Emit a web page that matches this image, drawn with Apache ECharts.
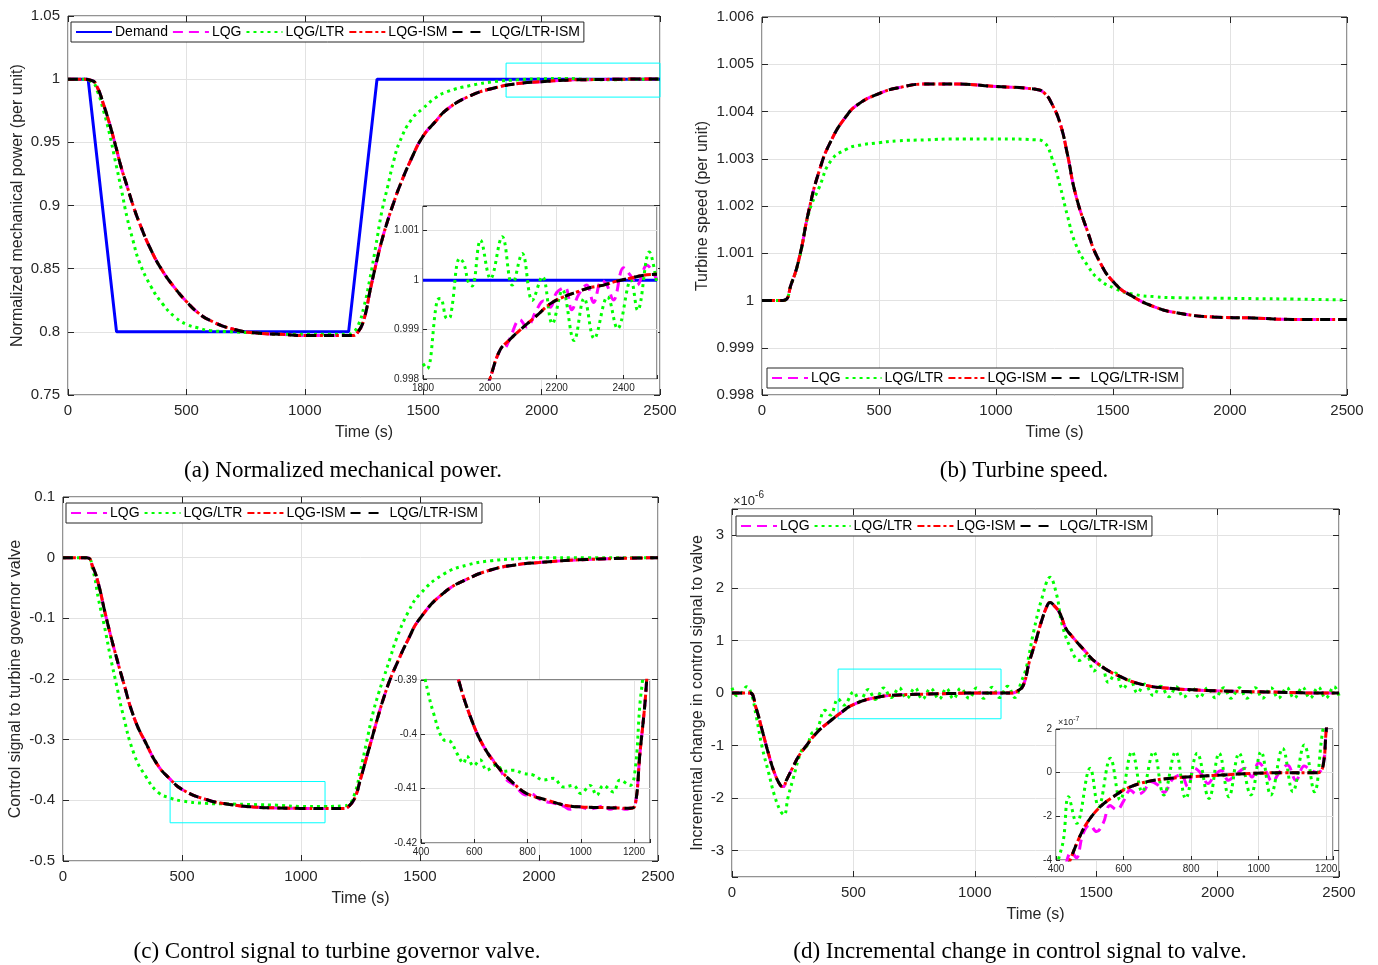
<!DOCTYPE html>
<html>
<head>
<meta charset="utf-8">
<script src="https://cdn.jsdelivr.net/npm/echarts@6/dist/echarts.min.js"></script>
<style>
html,body{margin:0;padding:0;background:#fff}
#chart{width:1378px;height:965px}
</style>
</head>
<body>
<div id="chart"></div>
<script>
// (a) normalized mechanical power
var demandT = [0, 85, 205, 1185, 1305, 2500];
var demandV = [1, 1, 0.8, 0.8, 1, 1];
var timeA = [0,50,100,125,150,175,200,225,250,275,300,350,400,450,500,550,600,700,800,900,1000,1100,1180,1200,1225,1250,1275,1300,1325,1350,1375,1400,1450,1500,1550,1600,1700,1800,1900,2000,2100,2200,2300,2400,2500];
var powerIsm = [1,1,0.999,0.993,0.98,0.965,0.948,0.93,0.915,0.9,0.887,0.865,0.848,0.835,0.824,0.815,0.809,0.802,0.799,0.798,0.797,0.797,0.797,0.797,0.8,0.81,0.832,0.853,0.872,0.888,0.902,0.915,0.937,0.955,0.966,0.976,0.987,0.993,0.9965,0.998,0.9992,0.9996,0.9999,1.0001,1.0002];
var powerLtr = [1,1,0.998,0.99,0.975,0.957,0.935,0.913,0.89,0.872,0.856,0.836,0.822,0.812,0.806,0.803,0.801,0.8,0.799,0.798,0.798,0.798,0.798,0.799,0.805,0.82,0.842,0.868,0.895,0.915,0.935,0.95,0.968,0.977,0.985,0.99,0.995,0.998,0.9995,1.0003,1.0005,0.9998,0.9995,1.0,1.0];
var powerLqg = powerIsm;
var powerLtrIsm = powerIsm;
// (a) inset
var zoomDemandT = [1800, 2500];
var zoomDemandV = [1, 1];
var zoomPowLtrT = [1800,1812,1842,1852,1872,1882,1910,1922,1937,1947,1972,2002,2037,2067,2097,2127,2157,2187,2217,2252,2282,2312,2352,2382,2422,2442,2477,2500];
var zoomPowLtrV = [0.99831,0.99821,0.99959,0.99963,0.99922,0.99926,1.00044,1.00034,0.99993,0.99988,1.00081,1.00003,1.00088,0.9999,1.00054,0.99959,1.00007,0.99912,0.9998,0.99878,0.99963,0.99882,0.99966,0.99902,1.0,0.99939,1.00057,0.9999];
var zoomPowIsmT = [1990,2000,2030,2060,2100,2140,2180,2220,2260,2300,2340,2380,2420,2460,2500];
var zoomPowIsmV = [0.9978,0.998,0.99858,0.9988,0.99905,0.99928,0.99952,0.99966,0.99976,0.99985,0.9999,0.99998,1.00004,1.0001,1.00012];
var zoomPowLqgT = [1990,2000,2030,2045,2060,2090,2110,2140,2160,2180,2200,2225,2245,2265,2290,2310,2335,2350,2370,2400,2420,2440,2470,2500];
var zoomPowLqgV = [0.9978,0.998,0.99858,0.99862,0.99882,0.9992,0.99905,0.9994,0.99958,0.99945,0.99975,0.99985,0.9994,0.9997,0.9999,0.99955,1.0,0.9999,0.9996,1.00025,1.0001,0.9999,1.0003,1.0];

// (b) turbine speed
var timeB = [0,90,125,160,200,245,295,360,410,500,580,700,830,1000,1170,1205,1240,1275,1305,1340,1390,1440,1510,1590,1680,1760,1930,2100,2270,2500];
var speedIsm = [1.0,1.0,1.00035,1.00092,1.0019,1.00275,1.00338,1.0039,1.00415,1.00438,1.0045,1.00458,1.00458,1.00453,1.00447,1.0044,1.00415,1.00373,1.0031,1.00225,1.00148,1.00085,1.00035,1.00007,0.99986,0.99975,0.99965,0.99963,0.9996,0.9996];
var speedLtr = [1.0,1.0,1.00035,1.0009,1.00185,1.0024,1.00296,1.0032,1.00328,1.00334,1.00338,1.0034,1.00342,1.00342,1.0034,1.00335,1.003,1.0024,1.0018,1.0012,1.00075,1.00045,1.00025,1.00013,1.00008,1.00006,1.00005,1.00004,1.00003,1.00001];
var speedLqg = speedIsm;
var speedLtrIsm = speedIsm;

// (c) control signal to governor valve
var timeC = [0,100,125,150,175,200,225,250,300,350,400,450,500,600,700,800,900,1000,1100,1180,1200,1225,1250,1275,1300,1325,1350,1375,1400,1450,1500,1600,1700,1800,1900,2000,2200,2500];
var valveIsm = [0,0,-0.015,-0.045,-0.088,-0.128,-0.165,-0.2,-0.265,-0.307,-0.343,-0.365,-0.382,-0.3985,-0.4067,-0.411,-0.4125,-0.4133,-0.4135,-0.4136,-0.41,-0.397,-0.365,-0.33,-0.295,-0.26,-0.228,-0.2,-0.177,-0.135,-0.1,-0.058,-0.035,-0.02,-0.012,-0.008,-0.003,0];
var valveLtr = [0,0,-0.02,-0.07,-0.115,-0.165,-0.21,-0.255,-0.325,-0.362,-0.387,-0.396,-0.401,-0.405,-0.406,-0.407,-0.408,-0.41,-0.41,-0.409,-0.407,-0.39,-0.35,-0.305,-0.26,-0.225,-0.195,-0.165,-0.135,-0.09,-0.06,-0.027,-0.012,-0.005,-0.002,0,0,0];
var valveLqg = valveIsm;
var valveLtrIsm = valveIsm;
// (c) inset
var zoomValLtrT = [400,416,447,485,510,535,560,572,597,622,647,685,710,747,785,822,860,897,935,972,1000,1035,1060,1085,1122,1147,1185,1204,1222,1232,1240];
var zoomValLtrV = [-0.386,-0.39,-0.3961,-0.401,-0.4013,-0.4035,-0.4053,-0.404,-0.4058,-0.4047,-0.4066,-0.4056,-0.4068,-0.4066,-0.4072,-0.4075,-0.4084,-0.4081,-0.4097,-0.4094,-0.4109,-0.4094,-0.4112,-0.4094,-0.4106,-0.4084,-0.4094,-0.4066,-0.3945,-0.39,-0.385];
var zoomValIsmT = [530,541,585,635,697,747,797,872,947,1022,1097,1185,1204,1222,1241,1250];
var zoomValIsmV = [-0.387,-0.39,-0.3967,-0.4022,-0.4065,-0.409,-0.4109,-0.4121,-0.4131,-0.4134,-0.4135,-0.4136,-0.4131,-0.4036,-0.3943,-0.388];
var zoomValLqgT = [530,541,585,635,697,720,747,797,815,840,870,900,935,960,985,1010,1030,1060,1085,1110,1140,1165,1185,1204,1222,1241,1250];
var zoomValLqgV = [-0.387,-0.39,-0.3967,-0.4022,-0.4065,-0.4083,-0.4092,-0.4112,-0.411,-0.4118,-0.4124,-0.4127,-0.4132,-0.4138,-0.4133,-0.4135,-0.4138,-0.4135,-0.4132,-0.4138,-0.4133,-0.4138,-0.4136,-0.4131,-0.4036,-0.3943,-0.388];

// (d) incremental change, in units of 1e-6
var timeD = [0,60,75,100,125,150,175,200,210,225,250,275,300,350,400,450,500,600,700,800,900,1000,1100,1150,1180,1200,1225,1250,1275,1300,1310,1325,1350,1375,1400,1450,1500,1600,1700,1800,1900,2000,2100,2200,2300,2400,2500];
var deltaIsm = [0,0,0,-0.3,-0.72,-1.15,-1.52,-1.76,-1.78,-1.65,-1.42,-1.2,-1.04,-0.75,-0.55,-0.37,-0.22,-0.08,-0.035,-0.02,-0.01,0,0,0,0.05,0.15,0.6,0.97,1.37,1.68,1.72,1.67,1.52,1.23,1.08,0.82,0.58,0.31,0.15,0.09,0.06,0.04,0.03,0.02,0.01,0,0];
var deltaLqg = deltaIsm;
var deltaLtrIsm = deltaIsm;
var deltaLtrT = [0,20,40,60,80,100,125,150,175,200,215,230,250,287,310,328,350,383,405,437,461,501,526,561,590,625,655,689,719,754,784,818,853,883,912,942,977,1007,1036,1071,1101,1135,1165,1190,1213,1241,1275,1310,1338,1358,1392,1430,1460,1490,1520,1550,1580,1610,1640,1670,1700,1735,1765,1800,1830,1860,1895,1925,1960,1990,2025,2055,2090,2120,2155,2185,2220,2250,2285,2315,2350,2380,2415,2445,2480,2500];
var deltaLtrV = [0.1,-0.05,0,0.12,-0.02,-0.45,-1.05,-1.5,-1.95,-2.25,-2.32,-2.0,-1.66,-1.09,-1.0,-0.77,-0.7,-0.33,-0.42,-0.11,-0.23,0.02,-0.156,0.066,-0.125,0.096,-0.087,0.096,-0.102,0.096,-0.118,0.089,-0.118,0.089,-0.11,0.089,-0.102,0.096,-0.102,0.111,-0.087,0.127,-0.087,0.195,0.5,1.14,1.78,2.2,1.85,1.33,0.88,0.62,0.72,0.42,0.55,0.2,0.38,0.08,0.25,0.0,0.17,-0.05,0.13,-0.07,0.12,-0.08,0.1,-0.09,0.1,-0.09,0.1,-0.1,0.1,-0.1,0.1,-0.1,0.1,-0.1,0.1,-0.1,0.11,-0.1,0.11,-0.1,0.12,-0.05];
// (d) inset, in units of 1e-7
var zoomDelLtrT = [400,407,422,437,461,501,526,561,590,625,655,689,719,754,784,818,853,883,912,942,977,1007,1036,1071,1101,1135,1165,1190,1200,1210];
var zoomDelLtrV = [-4.6,-4,-3.08,-1.1,-2.32,0.2,-1.56,0.66,-1.25,0.96,-0.87,0.96,-1.02,0.96,-1.18,0.89,-1.18,0.89,-1.1,0.89,-1.02,0.96,-1.02,1.11,-0.87,1.27,-0.87,1.95,2.26,3];
var zoomDelIsmT = [430,442,466,491,531,570,610,670,739,808,888,987,1086,1175,1190,1200,1205];
var zoomDelIsmV = [-4.5,-4,-3.08,-2.32,-1.56,-1.1,-0.72,-0.41,-0.26,-0.18,-0.11,-0.03,0,0,0.27,1.95,2.6];
var zoomDelLqgT = [430,445,460,480,500,520,540,560,580,600,620,640,660,680,700,720,745,770,790,810,830,850,870,890,910,935,960,980,1000,1020,1040,1065,1085,1110,1135,1155,1175,1190,1200,1205];
var zoomDelLqgV = [-4.2,-3.6,-3.9,-2.8,-2.4,-2.7,-2.3,-1.5,-1.7,-1.3,-0.8,-1.0,-0.85,-0.4,-0.55,-0.9,-0.3,-0.1,-0.65,0.2,-0.05,-0.5,-0.1,0.1,-0.35,-0.05,0.2,-0.2,0.45,0.1,-0.4,0.1,0.35,-0.35,0.3,0.1,0,0.3,1.95,2.6];

var sans = '"Liberation Sans", Arial, sans-serif';
var serif = '"Liberation Serif", "Times New Roman", serif';
var ink = '#262626';
var gridGray = '#e2e2e2';

var styles = {
  'Demand': {color: '#0000ff', type: 'solid'},
  'LQG': {color: '#ff00ff', type: [10, 6]},
  'LQG/LTR': {color: '#00ff00', type: [3, 4]},
  'LQG-ISM': {color: '#ff0000', type: [7, 3, 3, 3]},
  'LQG/LTR-ISM': {color: '#000000', type: [10, 8]}
};

function zip(t, v) {
  return t.map(function (x, i) { return [x, v[i]]; });
}

function line(name, gi, t, v, smooth) {
  var s = styles[name];
  return {
    name: name, type: 'line', xAxisIndex: gi, yAxisIndex: gi,
    data: zip(t, v), symbol: 'none', showSymbol: false,
    smooth: smooth, clip: true,
    itemStyle: {color: s.color},
    lineStyle: {color: s.color, width: 3, type: s.type, cap: 'butt'},
    emphasis: {disabled: true}
  };
}

function plain(v) { return String(+v.toFixed(6)); }

function mainX(gi) {
  return {
    type: 'value', gridIndex: gi, min: 0, max: 2500, interval: 500,
    name: 'Time (s)', nameLocation: 'middle', nameGap: 30,
    nameTextStyle: {fontFamily: sans, fontSize: 16, color: ink},
    axisLine: {show: false, onZero: false},
    axisTick: {show: true, inside: true, length: 6, lineStyle: {color: ink}},
    axisLabel: {fontFamily: sans, fontSize: 15, color: ink, margin: 8, formatter: plain},
    splitLine: {show: true, lineStyle: {color: gridGray}}
  };
}

function mainY(gi, min, max, interval, name, gap) {
  var ax = {
    type: 'value', gridIndex: gi, min: min, max: max,
    name: name, nameLocation: 'middle', nameGap: gap,
    nameTextStyle: {fontFamily: sans, fontSize: 16, color: ink},
    axisLine: {show: false, onZero: false},
    axisTick: {show: true, inside: true, length: 6, lineStyle: {color: ink}},
    axisLabel: {fontFamily: sans, fontSize: 15, color: ink, margin: 8, formatter: plain},
    splitLine: {show: true, lineStyle: {color: gridGray}}
  };
  if (interval) ax.interval = interval;
  return ax;
}

// tick marks only, on the top / right edge of a main box
function mirror(gi, pos, min, max, interval) {
  var ax = {
    type: 'value', gridIndex: gi, position: pos, min: min, max: max,
    axisLine: {show: false, onZero: false},
    axisTick: {show: true, inside: true, length: 6, lineStyle: {color: ink}},
    axisLabel: {show: false},
    splitLine: {show: false}
  };
  if (interval) ax.interval = interval; else ax.splitNumber = 7;
  return ax;
}

function onStep(step) {
  return function (v) {
    var k = v / step;
    return Math.abs(k - Math.round(k)) < 1e-6 ? plain(v) : '';
  };
}

function insetAxis(gi, min, max, interval, fmtStep) {
  return {
    type: 'value', gridIndex: gi, min: min, max: max, interval: interval, z: 1,
    axisLine: {show: false, onZero: false},
    axisTick: {show: true, inside: true, length: 4, lineStyle: {color: ink}},
    axisLabel: {fontFamily: sans, fontSize: 10, color: ink, margin: 4, formatter: onStep(fmtStep)},
    splitLine: {show: true, lineStyle: {color: gridGray}}
  };
}

function box(area) {
  return {
    silent: true,
    itemStyle: {color: 'rgba(0,0,0,0)', borderColor: '#00ffff', borderWidth: 1},
    data: [[{coord: area[0]}, {coord: area[1]}]]
  };
}

function legend(names, left, top) {
  return {
    data: names, left: left, top: top, orient: 'horizontal',
    itemWidth: 36, itemHeight: 12, itemGap: 4,
    padding: [3, 4], borderColor: ink, borderWidth: 1, backgroundColor: '#fff',
    itemStyle: {opacity: 0},
    textStyle: {fontFamily: sans, fontSize: 14, color: '#000', padding: [0, 0, 0, -2]},
    selectedMode: false
  };
}

var four = ['LQG', 'LQG/LTR', 'LQG-ISM', 'LQG/LTR-ISM'];

var series = [];
// (a)
series.push(line('Demand', 0, demandT, demandV, false));
series.push(line('LQG', 0, timeA, powerLqg, 0.5));
series.push(line('LQG/LTR', 0, timeA, powerLtr, 0.5));
series.push(line('LQG-ISM', 0, timeA, powerIsm, 0.5));
var sa = line('LQG/LTR-ISM', 0, timeA, powerLtrIsm, 0.5);
sa.markArea = box([[1850, 1.0127], [2500, 0.9858]]);
series.push(sa);
// (a) inset
series.push(line('Demand', 1, zoomDemandT, zoomDemandV, false));
series.push(line('LQG', 1, zoomPowLqgT, zoomPowLqgV, 0.4));
series.push(line('LQG/LTR', 1, zoomPowLtrT, zoomPowLtrV, 0.4));
series.push(line('LQG-ISM', 1, zoomPowIsmT, zoomPowIsmV, 0.4));
series.push(line('LQG/LTR-ISM', 1, zoomPowIsmT, zoomPowIsmV, 0.4));
// (b)
series.push(line('LQG', 2, timeB, speedLqg, 0.5));
series.push(line('LQG/LTR', 2, timeB, speedLtr, 0.5));
series.push(line('LQG-ISM', 2, timeB, speedIsm, 0.5));
series.push(line('LQG/LTR-ISM', 2, timeB, speedLtrIsm, 0.5));
// (c)
series.push(line('LQG', 3, timeC, valveLqg, 0.5));
series.push(line('LQG/LTR', 3, timeC, valveLtr, 0.5));
series.push(line('LQG-ISM', 3, timeC, valveIsm, 0.5));
var sc = line('LQG/LTR-ISM', 3, timeC, valveLtrIsm, 0.5);
sc.markArea = box([[450, -0.369], [1101, -0.437]]);
series.push(sc);
// (c) inset
series.push(line('LQG', 4, zoomValLqgT, zoomValLqgV, 0.4));
series.push(line('LQG/LTR', 4, zoomValLtrT, zoomValLtrV, 0.4));
series.push(line('LQG-ISM', 4, zoomValIsmT, zoomValIsmV, 0.4));
series.push(line('LQG/LTR-ISM', 4, zoomValIsmT, zoomValIsmV, 0.4));
// (d)
series.push(line('LQG', 5, timeD, deltaLqg, 0.5));
series.push(line('LQG/LTR', 5, deltaLtrT, deltaLtrV, 0.4));
series.push(line('LQG-ISM', 5, timeD, deltaIsm, 0.5));
var sd = line('LQG/LTR-ISM', 5, timeD, deltaLtrIsm, 0.5);
sd.markArea = box([[437, 0.455], [1108, -0.49]]);
series.push(sd);
// (d) inset
series.push(line('LQG', 6, zoomDelLqgT, zoomDelLqgV, 0.4));
series.push(line('LQG/LTR', 6, zoomDelLtrT, zoomDelLtrV, 0.4));
series.push(line('LQG-ISM', 6, zoomDelIsmT, zoomDelIsmV, 0.4));
series.push(line('LQG/LTR-ISM', 6, zoomDelIsmT, zoomDelIsmV, 0.4));

var mainGrid = {show: true, borderColor: ink, borderWidth: 1, backgroundColor: 'transparent'};
var insetGrid = {show: true, borderColor: ink, borderWidth: 1, backgroundColor: '#fff', z: 1};

function g(base, left, top, width, height) {
  return Object.assign({}, base, {left: left, top: top, width: width, height: height});
}

var chart = echarts.init(document.getElementById('chart'));

var dY = mainY(5, -3.5, 3.5, null, 'Incremental change in control signal to valve', 26);
dY.splitNumber = 7;
dY.axisLabel.formatter = onStep(1);

function caption(text, x, y) {
  return {type: 'text', x: x, y: y, style: {text: text, font: '23px ' + serif, fill: '#000', textAlign: 'center', textVerticalAlign: 'middle'}};
}

var option = {
  animation: false,
  backgroundColor: '#fff',
  grid: [
    g(mainGrid, 68, 16, 592, 379),
    g(insetGrid, 423, 206, 234, 173),
    g(mainGrid, 762, 17, 585, 378),
    g(mainGrid, 63, 497, 595, 364),
    g(insetGrid, 421, 680, 229, 163),
    g(mainGrid, 732, 509, 607, 368),
    g(insetGrid, 1056, 729, 277, 131)
  ],
  xAxis: [
    mainX(0),
    insetAxis(1, 1800, 2500, 200, 200),
    mainX(2),
    mainX(3),
    insetAxis(4, 400, 1260, 200, 200),
    mainX(5),
    insetAxis(6, 400, 1220, 200, 200),
    mirror(0, 'top', 0, 2500, 500),
    mirror(2, 'top', 0, 2500, 500),
    mirror(3, 'top', 0, 2500, 500),
    mirror(5, 'top', 0, 2500, 500)
  ],
  yAxis: [
    mainY(0, 0.75, 1.05, 0.05, 'Normalized mechanical power (per unit)', 42),
    insetAxis(1, 0.998, 1.0015, 0.001, 0.001),
    mainY(2, 0.998, 1.006, 0.001, 'Turbine speed (per unit)', 51),
    mainY(3, -0.5, 0.1, 0.1, 'Control signal to turbine governor valve', 39),
    insetAxis(4, -0.42, -0.39, 0.01, 0.01),
    dY,
    insetAxis(6, -4, 2, 2, 2),
    mirror(0, 'right', 0.75, 1.05, 0.05),
    mirror(2, 'right', 0.998, 1.006, 0.001),
    mirror(3, 'right', -0.5, 0.1, 0.1),
    mirror(5, 'right', -3.5, 3.5, null)
  ],
  legend: [
    legend(['Demand'].concat(four), 71, 22),
    legend(four, 767, 368),
    legend(four, 66, 503),
    legend(four, 736, 516)
  ],
  graphic: [
    caption('(a) Normalized mechanical power.', 343, 471),
    caption('(b) Turbine speed.', 1024, 471),
    caption('(c) Control signal to turbine governor valve.', 337, 952),
    caption('(d) Incremental change in control signal to valve.', 1020, 952),
    {type: 'text', x: 733, y: 490, style: {text: '{m|×10}{e|-6}', fill: ink, rich: {m: {fontFamily: sans, fontSize: 13, color: ink, verticalAlign: 'bottom'}, e: {fontFamily: sans, fontSize: 10, color: ink, verticalAlign: 'top', padding: [0, 0, 8, 0]}}}},
    {type: 'text', x: 1058, y: 716, z: 10, style: {text: '{m|×10}{e|-7}', fill: ink, rich: {m: {fontFamily: sans, fontSize: 9, color: ink}, e: {fontFamily: sans, fontSize: 7, color: ink, padding: [0, 0, 6, 0]}}}}
  ],
  series: series
};

chart.setOption(option);
</script>
</body>
</html>
